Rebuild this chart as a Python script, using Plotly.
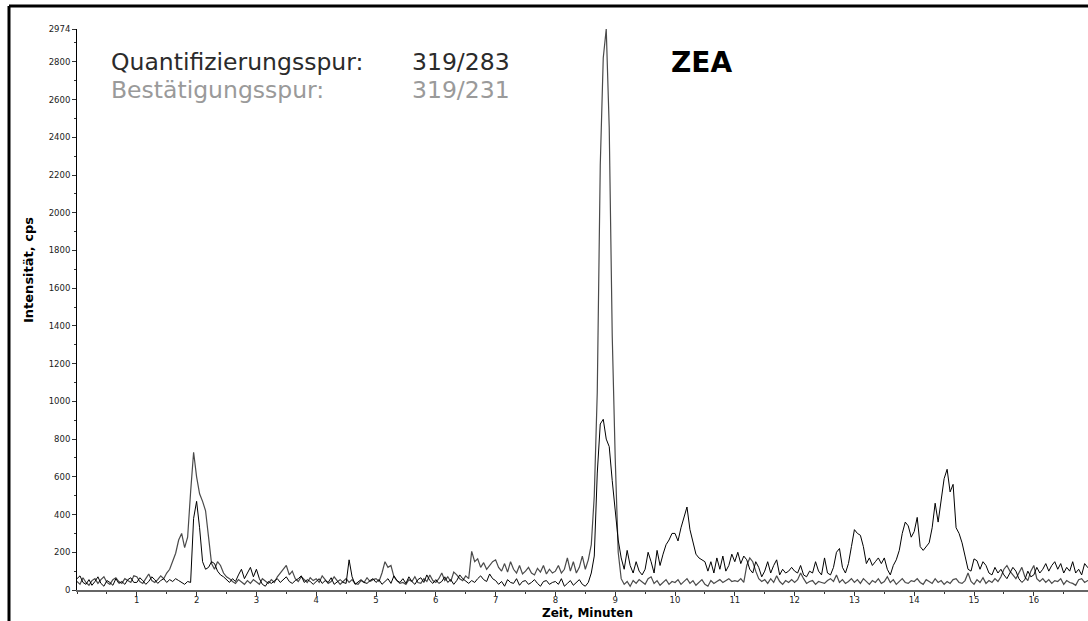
import numpy as np
import plotly.graph_objects as go

# Scan interval of both MRM traces (minutes)
SCAN_INTERVAL = 0.05

# Quantifier trace 319/283, one row per minute (20 scans each)
quant_cps = [
    45, 30, 65, 40, 25, 50, 60, 35, 55, 70, 40, 30, 55, 65, 45, 35, 60, 50, 40, 75,
    70, 45, 35, 60, 85, 50, 40, 55, 75, 60, 90, 110, 150, 195, 265, 300, 225, 280, 520, 730,
    600, 510, 470, 420, 280, 140, 110, 150, 130, 90, 70, 60, 45, 35, 55, 40, 30, 50, 35, 55,
    40, 30, 60, 45, 35, 55, 40, 70, 90, 110, 130, 80, 100, 60, 45, 70, 55, 40, 65, 50,
    60, 40, 75, 55, 35, 45, 70, 50, 30, 45, 60, 40, 55, 35, 30, 50, 40, 65, 45, 55,
    60, 45, 90, 150, 120, 130, 70, 50, 35, 40, 30, 55, 45, 70, 40, 35, 60, 45, 80, 50,
    40, 60, 90, 50, 70, 45, 95, 80, 60, 50, 75, 60, 205, 150, 165, 120, 145, 110, 130, 150,
    160, 120, 100, 140, 95, 150, 110, 90, 130, 85, 100, 120, 90, 80, 115, 95, 130, 85, 110, 90,
    100, 130, 90, 110, 170, 100, 150, 90, 120, 180, 110, 160, 240, 500, 1050, 2250, 2820, 2974, 2450, 1350,
    700, 200, 60, 30, 45, 20, 50, 35, 55, 40, 30, 60, 70, 35, 50, 25, 40, 55, 30, 45,
    40, 55, 30, 45, 60, 35, 50, 25, 40, 55, 30, 20, 50, 35, 45, 55, 40, 50, 60, 45,
    50, 45, 60, 40, 130, 170, 150, 100, 60, 45, 55, 35, 60, 40, 75, 45, 30, 50, 40, 55,
    40, 55, 90, 60, 35, 45, 50, 30, 45, 40, 35, 50, 60, 45, 80, 40, 55, 35, 45, 60,
    40, 55, 35, 60, 45, 30, 50, 40, 60, 35, 45, 70, 40, 55, 30, 45, 60, 40, 35, 50,
    45, 60, 40, 30, 55, 45, 35, 60, 40, 50, 30, 45, 35, 55, 60, 40, 35, 50, 90, 45,
    30, 55, 40, 65, 35, 50, 40, 60, 45, 70, 110, 130, 100, 80, 60, 90, 120, 70, 50, 100,
    130, 60, 45, 60, 40, 55, 35, 50, 45, 60, 30, 50, 40, 35, 25, 55, 60, 40, 50, 45,
]

# Qualifier trace 319/231
qual_cps = [
    60, 75, 40, 30, 55, 25, 45, 70, 35, 20, 50, 40, 25, 60, 35, 45, 30, 55, 65, 40,
    40, 65, 50, 30, 45, 70, 55, 35, 50, 60, 40, 55, 45, 60, 50, 40, 30, 45, 40, 380,
    470, 330, 150, 110, 120, 150, 140, 100, 80, 70, 55, 40, 60, 45, 80, 110, 60, 90, 120, 70,
    110, 60, 30, 20, 45, 35, 50, 60, 40, 55, 70, 45, 35, 50, 60, 75, 40, 55, 45, 30,
    45, 60, 35, 50, 40, 65, 30, 45, 55, 40, 35, 160, 70, 30, 45, 55, 40, 35, 50, 60,
    40, 55, 30, 45, 60, 35, 75, 50, 40, 60, 35, 70, 45, 30, 55, 65, 40, 80, 50, 35,
    55, 35, 45, 70, 40, 55, 30, 50, 80, 60, 45, 35, 50, 40, 60, 75, 55, 45, 85, 60,
    50, 30, 45, 20, 55, 40, 35, 60, 25, 45, 50, 30, 40, 55, 35, 20, 45, 50, 30, 40,
    45, 30, 60, 20, 35, 50, 25, 40, 55, 30, 20, 40, 90, 180, 620, 880, 905, 800, 760, 580,
    400, 265, 170, 110, 210, 130, 90, 150, 100, 80, 110, 200, 150, 90, 210, 130, 190, 240, 265, 300,
    300, 260, 330, 380, 440, 320, 260, 190, 170, 160, 150, 100, 150, 90, 170, 110, 180, 100, 130, 190,
    150, 200, 140, 180, 160, 110, 90, 150, 120, 70, 100, 150, 90, 130, 160, 80, 110, 90, 100, 120,
    100, 90, 130, 80, 70, 100, 90, 150, 100, 80, 170, 90, 80, 120, 200, 220, 120, 90, 140, 230,
    320, 300, 290, 230, 140, 170, 130, 150, 170, 140, 170, 110, 80, 130, 160, 210, 300, 360, 340, 280,
    310, 385, 230, 210, 230, 250, 330, 460, 360, 470, 590, 640, 520, 560, 330, 300, 250, 180, 110, 100,
    165, 155, 110, 150, 130, 90, 80, 120, 90, 110, 80, 60, 90, 120, 100, 60, 40, 55, 100, 70,
    80, 120, 90, 110, 140, 100, 130, 150, 110, 140, 90, 120, 100, 150, 90, 110, 80, 140, 120, 100,
]

time_min = np.arange(len(quant_cps)) * SCAN_INTERVAL

# Axis tick labels
y_major = [0, 200, 400, 600, 800, 1000, 1200, 1400, 1600, 1800, 2000,
           2200, 2400, 2600, 2800, 2974]
x_major = list(range(1, 17))
Y_MAX = 2974
X_MAX = 16.906
ARROW_LEVEL = 150

TICK_FONT = dict(family="DejaVu Sans", size=8.5, color="#222222")

fig = go.Figure()
fig.add_trace(go.Scatter(x=time_min, y=quant_cps, mode="lines",
                         line=dict(color="#4a4a4a", width=1.2), name="319/283"))
fig.add_trace(go.Scatter(x=time_min, y=qual_cps, mode="lines",
                         line=dict(color="#000000", width=1), name="319/231"))
# threshold marker on the intensity axis
fig.add_trace(go.Scatter(x=[-0.045], y=[ARROW_LEVEL], mode="markers",
                         marker=dict(symbol="triangle-right", size=8, color="#000000"),
                         cliponaxis=False, hoverinfo="skip"))

fig.update_layout(
    width=1088, height=621,
    margin=dict(l=77, r=0, t=29, b=31),
    paper_bgcolor="white", plot_bgcolor="white",
    showlegend=False,
    xaxis=dict(range=[0, X_MAX], showgrid=False, zeroline=False,
               showline=True, linecolor="#666666", linewidth=2,
               tickmode="array", tickvals=x_major, ticks="outside",
               ticklen=4, tickcolor="#333333", tickfont=TICK_FONT,
               ticklabelstandoff=-3,
               minor=dict(tickmode="linear", tick0=0, dtick=0.5, ticks="outside",
                          ticklen=2, tickcolor="#333333", showgrid=False)),
    yaxis=dict(range=[0, Y_MAX], showgrid=False, zeroline=False,
               showline=True, linecolor="#000000", linewidth=1,
               tickmode="array", tickvals=y_major, ticks="outside",
               ticklen=4, tickcolor="#333333", tickfont=TICK_FONT,
               minor=dict(tickmode="linear", tick0=0, dtick=100, ticks="outside",
                          ticklen=2, tickcolor="#333333", showgrid=False)),
)

# Frame of the report page (left and top edges)
fx = (9 - 77) / 1011
fy = (590 - 6) / 561
fig.add_shape(type="line", xref="paper", yref="paper", x0=fx, x1=fx, y0=-0.2, y1=fy,
              line=dict(color="black", width=3))
fig.add_shape(type="line", xref="paper", yref="paper", x0=fx, x1=1.2, y0=fy, y1=fy,
              line=dict(color="black", width=3))


def px_x(p):
    return (p - 77) / 1011


def px_y(p):
    return (590 - p) / 561


def label(text, x, y, size, color, bold=False, anchor="left", angle=0, yanchor="middle"):
    fig.add_annotation(text=f"<b>{text}</b>" if bold else text,
                       xref="paper", yref="paper", x=px_x(x), y=px_y(y),
                       xanchor=anchor, yanchor=yanchor, showarrow=False, textangle=angle,
                       borderpad=0,
                       font=dict(family="DejaVu Sans", size=size, color=color))


label("Quantifizierungsspur:", 110, 62, 23.5, "#2b2b2b")
label("319/283", 411, 62, 23.5, "#2b2b2b")
label("Bestätigungsspur:", 110, 90, 23.5, "#9a9a9a")
label("319/231", 411, 90, 23.5, "#9a9a9a")
label("ZEA", 670, 62, 28, "#000000", bold=True)
label("Zeit, Minuten", 587, 621, 12, "#000000", bold=True, anchor="center",
      yanchor="bottom")
label("Intensität, cps", 28, 270, 13, "#000000", bold=True, anchor="center", angle=-90)

fig.write_html("out.html")
